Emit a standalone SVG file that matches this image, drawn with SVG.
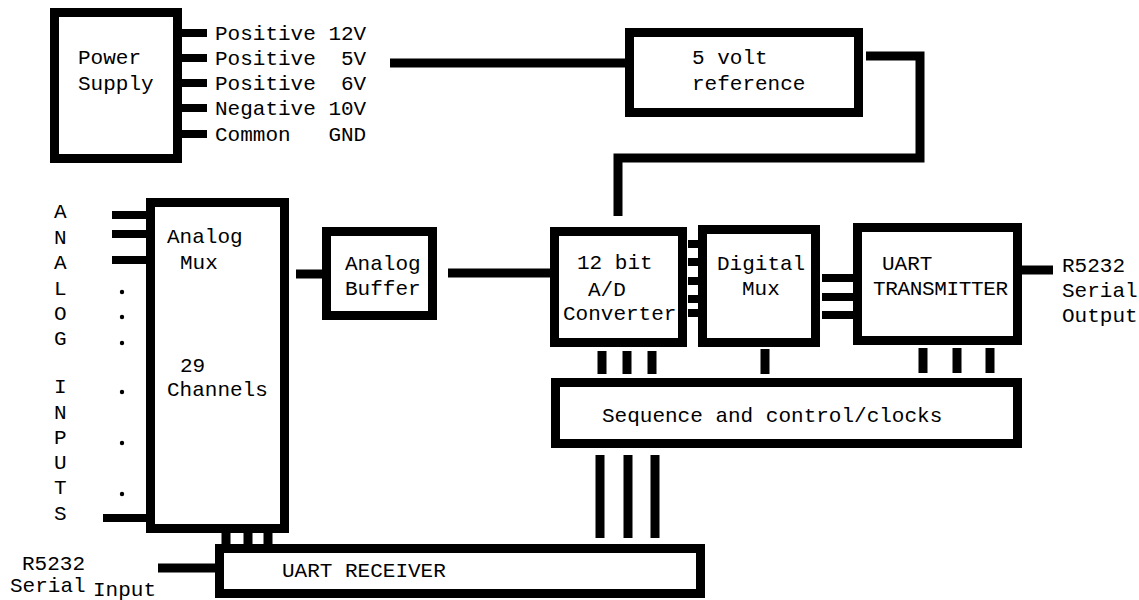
<svg xmlns="http://www.w3.org/2000/svg" width="1139" height="600" viewBox="0 0 1139 600">
<style>
.box{fill:#fff;stroke:#000;stroke-width:9}
.ln{fill:none;stroke:#000;stroke-width:9;stroke-linecap:butt}
.pin{fill:none;stroke:#000;stroke-width:8}
text{font-family:"Liberation Mono","DejaVu Sans Mono",monospace;font-size:21px;fill:#000}
</style>
<rect width="1139" height="600" fill="#fff"/>
<g id="connectors">
<path class="pin" d="M182 33H207M182 58H207M182 83H207M182 108H207M182 134H207"/>
<path class="ln" d="M390 63H625"/>
<path class="ln" d="M866 56H920V158H618V216"/>
<path class="pin" d="M112 215H146M112 234H146M112 260H146M103 518H146"/>
<path class="ln" d="M296 274H322"/>
<path class="ln" d="M448 273H550"/>
<path class="pin" d="M688 244H700M688 262H700M688 281H700M688 299H700M688 313H700"/>
<path class="pin" d="M822 278H855M822 297H855M822 315H855"/>
<path class="ln" d="M1022 270H1053"/>
<path class="ln" d="M602 351V374M627 351V374M652 351V374M765 349V374M923 348V373M957 348V373M990 348V373"/>
<path class="ln" d="M600 455V538M628 455V538M655 455V538"/>
<path class="ln" d="M226 533V545M248 533V545M268 533V545"/>
<path class="ln" d="M158 568H215"/>
</g>
<g id="power-supply">
<rect class="box" x="54.5" y="12.5" width="123" height="146"/>
<text x="78" y="64">Power</text>
<text x="78" y="90">Supply</text>
<text x="215" y="40" xml:space="preserve">Positive 12V</text>
<text x="215" y="65" xml:space="preserve">Positive  5V</text>
<text x="215" y="90" xml:space="preserve">Positive  6V</text>
<text x="215" y="115" xml:space="preserve">Negative 10V</text>
<text x="215" y="141" xml:space="preserve">Common   GND</text>
</g>
<g id="volt-reference">
<rect class="box" x="629.5" y="32.5" width="229" height="80"/>
<text x="692" y="64">5 volt</text>
<text x="692" y="90">reference</text>
</g>
<g id="analog-inputs">
<text x="54" y="218">A</text><text x="54" y="244">N</text><text x="54" y="269">A</text><text x="54" y="295">L</text><text x="54" y="320">O</text><text x="54" y="345">G</text>
<text x="54" y="393">I</text><text x="54" y="419">N</text><text x="54" y="444">P</text><text x="54" y="469">U</text><text x="54" y="494">T</text><text x="54" y="520">S</text>
<circle cx="122" cy="292" r="2.2"/><circle cx="122" cy="317" r="2.2"/><circle cx="122" cy="343" r="2.2"/><circle cx="122" cy="392" r="2.2"/><circle cx="122" cy="443" r="2.2"/><circle cx="122" cy="494" r="2.2"/>
</g>
<g id="analog-mux">
<rect class="box" x="150.5" y="202.5" width="134" height="326"/>
<text x="167" y="243">Analog</text>
<text x="180" y="269">Mux</text>
<text x="180" y="372">29</text>
<text x="167" y="396">Channels</text>
</g>
<g id="analog-buffer">
<rect class="box" x="326.5" y="231.5" width="106" height="84"/>
<text x="345" y="270">Analog</text>
<text x="345" y="295">Buffer</text>
</g>
<g id="ad-converter">
<rect class="box" x="554.5" y="231.5" width="128" height="111"/>
<text x="577" y="269">12 bit</text>
<text x="588" y="296">A/D</text>
<text x="563" y="320">Converter</text>
</g>
<g id="digital-mux">
<rect class="box" x="702.5" y="229.5" width="113" height="113"/>
<text x="717" y="270">Digital</text>
<text x="742" y="295">Mux</text>
</g>
<g id="uart-transmitter">
<rect class="box" x="857.5" y="227.5" width="160" height="113"/>
<text x="882" y="270">UART</text>
<text x="873" y="295" textLength="135">TRANSMITTER</text>
</g>
<g id="serial-output">
<text x="1062" y="272">R5232</text>
<text x="1062" y="297">Serial</text>
<text x="1062" y="322">Output</text>
</g>
<g id="sequence-control">
<rect class="box" x="555.5" y="382.5" width="462" height="61"/>
<text x="602" y="422">Sequence and control/clocks</text>
</g>
<g id="uart-receiver">
<rect class="box" x="219.5" y="548.5" width="481" height="45"/>
<text x="282" y="577">UART RECEIVER</text>
</g>
<g id="serial-input">
<text x="22" y="570">R5232</text>
<text x="10" y="592">Serial</text>
<text x="93" y="596">Input</text>
</g>
</svg>
